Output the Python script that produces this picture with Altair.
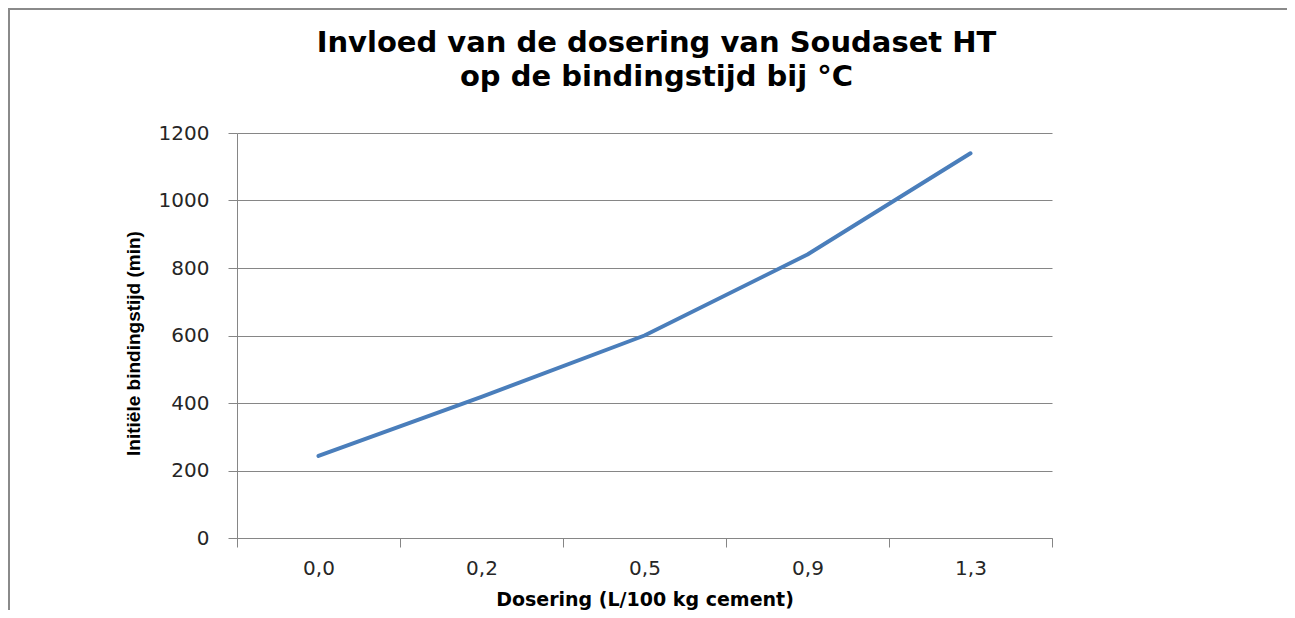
import altair as alt
import pandas as pd

# Data
dosering = ["0,0", "0,2", "0,5", "0,9", "1,3"]
bindingstijd = [243, 418, 600, 840, 1140]
y_ticks = [0, 200, 400, 600, 800, 1000, 1200]

title_lines = ["Invloed van de dosering van Soudaset HT", "op de bindingstijd bij °C"]
x_title = "Dosering (L/100 kg cement)"
y_title = "Initiële bindingstijd  (min)"

df = pd.DataFrame({"dosering": dosering, "tijd": bindingstijd})
one = pd.DataFrame({"k": [0]})

GRID = "#868686"
LINE = "#4a7ebb"

line = alt.Chart(df).mark_line(color=LINE, strokeWidth=4, strokeCap="round", strokeJoin="round").encode(
    x=alt.X(
        "dosering:N",
        sort=None,
        scale=alt.Scale(type="band", paddingInner=0, paddingOuter=0),
        axis=alt.Axis(
            title=x_title,
            tickBand="extent",
            grid=False,
            labelAngle=0,
            domainColor=GRID,
            tickColor=GRID,
            tickSize=9,
            labelFont="DejaVu Sans",
            labelFontSize=20,
            labelColor="#262626",
            labelPadding=11,
            titleFont="DejaVu Sans",
            titleFontSize=19,
            titleFontWeight="bold",
            titleColor="#000000",
            titleBaseline="alphabetic",
            titleY=67,
        ),
    ),
    y=alt.Y(
        "tijd:Q",
        scale=alt.Scale(domain=[0, 1200], nice=False),
        axis=alt.Axis(
            title=y_title,
            values=y_ticks,
            format="d",
            grid=True,
            gridColor=GRID,
            gridWidth=1,
            domainColor=GRID,
            tickColor=GRID,
            tickSize=9,
            labelFont="DejaVu Sans",
            labelFontSize=20,
            labelColor="#262626",
            labelPadding=19,
            titleFont="Liberation Sans",
            titleFontSize=19,
            titleFontWeight="bold",
            titleColor="#000000",
            titleAngle=270,
            titleAlign="center",
            titleBaseline="middle",
            titleX=-104,
            titleY=210,
        ),
    ),
)

border_top = alt.Chart(one).mark_rule(color="#8a8a8a", strokeWidth=2).encode(
    x=alt.value(-229), x2=alt.value(1050), y=alt.value(-124)
)
border_left = alt.Chart(one).mark_rule(color="#8a8a8a", strokeWidth=2).encode(
    x=alt.value(-228), y=alt.value(-124), y2=alt.value(485)
)

chart = alt.layer(border_top, border_left, line).properties(
    width=815,
    height=405,
    padding={"left": 229, "top": 125, "right": 235, "bottom": 72},
    autosize=alt.AutoSizeParams(type="none"),
    background="#ffffff",
    title=alt.TitleParams(
        text=title_lines,
        font="DejaVu Sans",
        fontSize=29,
        fontWeight="bold",
        color="#000000",
        lineHeight=34,
        anchor="middle",
        frame="group",
        dx=12,
        offset=-84,
    ),
).configure_view(stroke=None)

chart.save("out.html", embed_options={"renderer": "svg", "actions": False})
